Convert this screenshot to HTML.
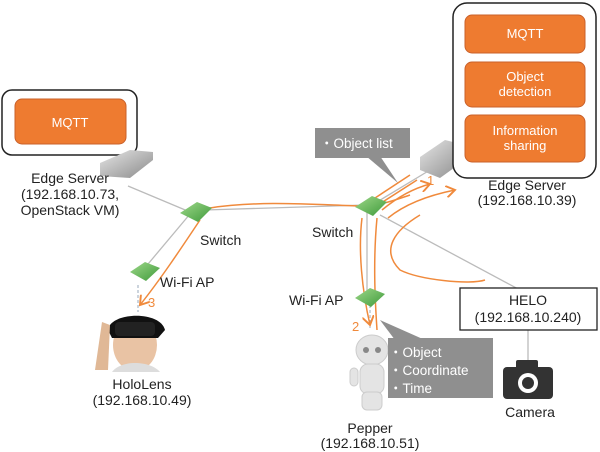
<!DOCTYPE html>
<html><head><meta charset="utf-8"><style>
html,body{margin:0;padding:0;background:#fff;}
svg{display:block;font-family:"Liberation Sans",sans-serif;}
</style></head><body>
<svg width="600" height="452" viewBox="0 0 600 452" xmlns="http://www.w3.org/2000/svg">
<defs>
<linearGradient id="srv" x1="0" y1="0" x2="1" y2="1"><stop offset="0" stop-color="#e6e6e6"/><stop offset="1" stop-color="#8a8a8a"/></linearGradient>
<linearGradient id="grn" x1="0" y1="0" x2="1" y2="1"><stop offset="0" stop-color="#9fd88a"/><stop offset="1" stop-color="#3e9a3a"/></linearGradient>
<marker id="ar" markerWidth="8" markerHeight="8" refX="6" refY="4" orient="auto"><path d="M0,0 L6,4 L0,8" fill="none" stroke="#f08a3c" stroke-width="1.3"/></marker>
</defs>

<g stroke="#bbb" stroke-width="1.3" fill="none">
<line x1="128" y1="186" x2="190" y2="212"/>
<line x1="190" y1="214" x2="143" y2="270"/>
<line x1="205" y1="210" x2="365" y2="205"/>
<line x1="372" y1="205" x2="430" y2="170"/>
<line x1="367" y1="212" x2="367" y2="292"/>
<line x1="380" y1="215" x2="520" y2="290"/>
<line x1="528" y1="330" x2="528" y2="362"/>
</g>
<g stroke="#9ab" stroke-width="1" stroke-dasharray="3,2" fill="none">
<line x1="138" y1="285" x2="138" y2="312"/>
<line x1="370" y1="305" x2="370" y2="330"/>
</g>

<g stroke="#f08a3c" stroke-width="1.5" fill="none">
<path d="M210,208 C260,200 320,205 360,206 C380,206 395,200 410,195" />
<path d="M200,220 C180,250 160,280 140,305" marker-end="url(#ar)"/>
<path d="M372,200 L410,175"/>
<path d="M378,205 L417,180"/>
<path d="M382,210 C400,195 415,188 430,184" marker-end="url(#ar)"/>
<path d="M420,215 C395,230 380,250 400,270 C420,280 470,285 485,280"/>
<path d="M388,218 C410,200 440,193 455,190" marker-end="url(#ar)"/>
<path d="M362,218 C358,250 362,290 370,325" marker-end="url(#ar)"/>
<path d="M377,218 C373,260 375,300 377,330"/>
</g>
<text x="427" y="185" font-size="13" fill="#f08a3c">1</text>
<text x="352" y="331" font-size="13" fill="#f08a3c">2</text>
<text x="148" y="307" font-size="13" fill="#f08a3c">3</text>

<rect x="2" y="90" width="135" height="65" rx="10" fill="#fff" stroke="#222" stroke-width="1.5"/>
<rect x="15" y="99" width="111" height="45" rx="7" fill="#ee7b30" stroke="#c9602a"/>
<text x="70" y="127" font-size="13" fill="#fff" text-anchor="middle">MQTT</text>
<polygon points="100,163 130,150 153,152 153,160 130,178 100,176" fill="url(#srv)"/>
<g font-size="14" fill="#222" text-anchor="middle">
<text x="70" y="183">Edge Server</text>
<text x="70" y="199">(192.168.10.73,</text>
<text x="70" y="215">OpenStack VM)</text>
</g>

<polygon points="420,157 445,140 465,145 465,160 440,178 420,170" fill="url(#srv)"/>
<rect x="453" y="3" width="143" height="175" rx="14" fill="#fff" stroke="#222" stroke-width="1.5"/>
<rect x="465" y="15" width="120" height="38" rx="7" fill="#ee7b30" stroke="#c9602a"/>
<rect x="465" y="62" width="120" height="45" rx="7" fill="#ee7b30" stroke="#c9602a"/>
<rect x="465" y="115" width="120" height="47" rx="7" fill="#ee7b30" stroke="#c9602a"/>
<g font-size="13" fill="#fff" text-anchor="middle">
<text x="525" y="38">MQTT</text>
<text x="525" y="81">Object</text><text x="525" y="96">detection</text>
<text x="525" y="135">Information</text><text x="525" y="150">sharing</text>
</g>
<g font-size="14" fill="#222" text-anchor="middle">
<text x="527" y="190">Edge Server</text>
<text x="527" y="205">(192.168.10.39)</text>
</g>

<polygon points="180,213 197,202 212,208 198,222" fill="url(#grn)"/>
<polygon points="355,207 372,196 387,202 373,216" fill="url(#grn)"/>
<polygon points="130,272 145,262 160,268 146,281" fill="url(#grn)"/>
<polygon points="355,298 370,288 385,294 371,307" fill="url(#grn)"/>
<g font-size="14" fill="#222">
<text x="200" y="245">Switch</text>
<text x="312" y="237">Switch</text>
<text x="160" y="287">Wi-Fi AP</text>
<text x="289" y="305">Wi-Fi AP</text>
</g>

<polygon points="380,156 398,183 366,156" fill="#8f8f8f"/>
<rect x="315" y="128" width="95" height="30" fill="#8f8f8f"/>
<text x="320" y="148" font-size="13.5" fill="#fff">・Object list</text>

<ellipse cx="135" cy="345" rx="22" ry="26" fill="#e9c3a4"/>
<path d="M108,330 C110,312 160,310 165,330 L158,338 L112,338 Z" fill="#111"/>
<rect x="115" y="322" width="40" height="14" rx="4" fill="#222"/>
<path d="M95,370 L102,322 L110,325 L108,370 Z" fill="#e0b896"/>
<path d="M112,372 C120,360 150,360 160,372 Z" fill="#ddd"/>
<g font-size="14" fill="#222" text-anchor="middle">
<text x="142" y="389">HoloLens</text>
<text x="142" y="405">(192.168.10.49)</text>
</g>

<g fill="#e4e4e4" stroke="#ccc">
<ellipse cx="372" cy="350" rx="16" ry="15"/>
<rect x="360" y="364" width="24" height="30" rx="8"/>
<rect x="362" y="392" width="20" height="18" rx="5"/>
<rect x="350" y="368" width="8" height="18" rx="4"/>
</g>
<circle cx="366" cy="350" r="3" fill="#888"/><circle cx="378" cy="350" r="3" fill="#888"/>
<g font-size="14" fill="#222" text-anchor="middle">
<text x="370" y="433">Pepper</text>
<text x="370" y="448">(192.168.10.51)</text>
</g>

<polygon points="380,320 425,340 395,340" fill="#8f8f8f"/>
<rect x="388" y="338" width="105" height="60" fill="#8f8f8f"/>
<g font-size="13.5" fill="#fff">
<text x="389" y="357">・Object</text>
<text x="389" y="375">・Coordinate</text>
<text x="389" y="393">・Time</text>
</g>

<rect x="460" y="288" width="137" height="42" fill="#fff" stroke="#222" stroke-width="1.3"/>
<g font-size="14" fill="#222" text-anchor="middle">
<text x="528" y="305">HELO</text>
<text x="528" y="322">(192.168.10.240)</text>
</g>

<rect x="503" y="367" width="50" height="32" rx="4" fill="#333"/>
<rect x="516" y="360" width="22" height="10" rx="2" fill="#333"/>
<circle cx="528" cy="383" r="10" fill="#fff"/>
<circle cx="528" cy="383" r="6" fill="#333"/>
<text x="530" y="417" font-size="14" fill="#222" text-anchor="middle">Camera</text>
</svg>
</body></html>
